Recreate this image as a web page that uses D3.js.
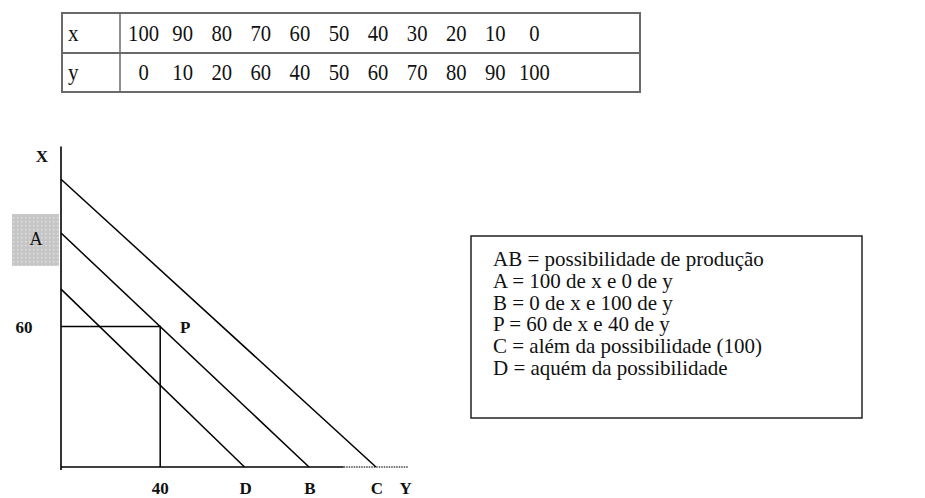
<!DOCTYPE html>
<html>
<head>
<meta charset="utf-8">
<script src="https://cdn.jsdelivr.net/npm/d3@7"></script>
<style>
  html, body { margin: 0; padding: 0; background: #fff; }
  svg { display: block; }
  text { font-family: "Liberation Serif", "DejaVu Serif", serif; fill: #111; }
</style>
</head>
<body>
<svg id="chart" width="925" height="498"></svg>
<script>
// Production schedule (table)
const tableRowNames = ["x", "y"];
const scheduleX = [100, 90, 80, 70, 60, 50, 40, 30, 20, 10, 0];
const scheduleY = [0, 10, 20, 60, 40, 50, 60, 70, 80, 90, 100];

// Frontier intercepts: value of x on the vertical axis, value of y on the horizontal axis
const frontierNames = ["C", "B", "D"];
const frontierX = [123, 100, 76];
const frontierY = [127, 100, 74];

// Point P
const pointP = { name: "P", x: 60, y: 40 };

// Legend lines
const legendLines = [
  "AB = possibilidade de produção",
  "A = 100 de x e 0 de y",
  "B = 0 de x e 100 de y",
  "P = 60 de x e 40 de y",
  "C = além da possibilidade (100)",
  "D = aquém da possibilidade"
];

const svg = d3.select("#chart");

// ---------- table ----------
const tbl = { left: 62, right: 640, top: 13, mid: 53, bottom: 92, divider: 120 };
const col = d3.scaleBand().domain(d3.range(scheduleX.length)).range([124, 554]);
const rowY = d3.scaleBand().domain(tableRowNames).range([tbl.top, tbl.bottom]);

const tg = svg.append("g");
tg.append("rect")
  .attr("x", tbl.left).attr("y", tbl.top)
  .attr("width", tbl.right - tbl.left).attr("height", tbl.bottom - tbl.top)
  .attr("fill", "none").attr("stroke", "#6a6a6a").attr("stroke-width", 2);
tg.append("line")
  .attr("x1", tbl.left).attr("x2", tbl.right)
  .attr("y1", tbl.mid).attr("y2", tbl.mid)
  .attr("stroke", "#6a6a6a").attr("stroke-width", 2);
tg.append("line")
  .attr("x1", tbl.divider).attr("x2", tbl.divider)
  .attr("y1", tbl.top).attr("y2", tbl.bottom)
  .attr("stroke", "#6a6a6a").attr("stroke-width", 1.5);

// table cells use a slightly condensed serif face
const rows = [scheduleX, scheduleY];
tableRowNames.forEach((name, r) => {
  const cy = rowY(name) + rowY.bandwidth() / 2 + 8;
  tg.append("text")
    .attr("transform", `translate(68,${cy}) scale(0.88,1)`)
    .attr("font-size", 24).text(name);
  tg.selectAll(null).data(rows[r]).enter().append("text")
    .attr("transform", (d, i) => `translate(${col(i) + col.bandwidth() / 2},${cy}) scale(0.86,1)`)
    .attr("text-anchor", "middle")
    .attr("font-size", 24)
    .text(d => d);
});

// ---------- diagram ----------
const yScale = d3.scaleLinear().domain([0, 100]).range([61, 309]);   // horizontal axis (good y)
const xScale = d3.scaleLinear().domain([0, 100]).range([467, 233]);  // vertical axis (good x)

const g = svg.append("g");

// shaded box behind the A label
const defs = svg.append("defs");
const pat = defs.append("pattern").attr("id", "dots")
  .attr("width", 4).attr("height", 4).attr("patternUnits", "userSpaceOnUse");
pat.append("rect").attr("width", 4).attr("height", 4).attr("fill", "#c6c6c6");
pat.append("rect").attr("x", 1).attr("y", 1).attr("width", 1.4).attr("height", 1.4).attr("fill", "#e2e2e2");

g.append("rect")
  .attr("x", 12).attr("y", xScale(100) - 19)
  .attr("width", 47).attr("height", 52)
  .attr("fill", "url(#dots)");
g.append("text")
  .attr("x", 36).attr("y", xScale(100) + 12)
  .attr("text-anchor", "middle").attr("font-size", 18)
  .attr("fill", "#333").text("A");

// axes
g.append("line")
  .attr("x1", yScale(0)).attr("x2", yScale(0))
  .attr("y1", xScale(137)).attr("y2", xScale(0) + 3)
  .attr("stroke", "#000").attr("stroke-width", 1.6);
g.append("line")
  .attr("x1", yScale(0)).attr("x2", yScale(114))
  .attr("y1", xScale(0)).attr("y2", xScale(0))
  .attr("stroke", "#000").attr("stroke-width", 1.6);
g.append("line")
  .attr("x1", yScale(114)).attr("x2", yScale(140))
  .attr("y1", xScale(0)).attr("y2", xScale(0))
  .attr("stroke", "#444").attr("stroke-width", 1.4)
  .attr("stroke-dasharray", "1.5,1");

// frontier lines
const frontiers = frontierNames.map((n, i) => ({ name: n, x: frontierX[i], y: frontierY[i] }));
g.selectAll(".frontier").data(frontiers).enter().append("line")
  .attr("class", "frontier")
  .attr("x1", yScale(0)).attr("y1", d => xScale(d.x))
  .attr("x2", d => yScale(d.y)).attr("y2", xScale(0))
  .attr("stroke", "#000").attr("stroke-width", 1.5);

// point P guide lines
g.append("polyline")
  .attr("points", [[yScale(0), xScale(pointP.x)], [yScale(pointP.y), xScale(pointP.x)], [yScale(pointP.y), xScale(0)]].join(" "))
  .attr("fill", "none").attr("stroke", "#000").attr("stroke-width", 1.5);

// labels
const bold = sel => sel.attr("font-weight", "bold").attr("font-size", 17);
g.append("text").attr("x", 42).attr("y", 162).attr("text-anchor", "middle").call(bold).text("X");
g.append("text").attr("x", 24).attr("y", xScale(pointP.x) + 6).attr("text-anchor", "middle").call(bold).text(pointP.x);
g.append("text").attr("x", yScale(pointP.y) + 25).attr("y", xScale(pointP.x) + 6).attr("text-anchor", "middle").call(bold).text(pointP.name);

const baseY = 494;
g.append("text").attr("x", yScale(pointP.y)).attr("y", baseY).attr("text-anchor", "middle").call(bold).text(pointP.y);
g.selectAll(".flabel").data(frontiers).enter().append("text")
  .attr("class", "flabel")
  .attr("x", d => yScale(d.y) + 1).attr("y", baseY)
  .attr("text-anchor", "middle").call(bold).text(d => d.name);
g.append("text").attr("x", yScale(139)).attr("y", baseY).attr("text-anchor", "middle").call(bold).text("Y");

// ---------- legend ----------
const lg = svg.append("g");
lg.append("rect")
  .attr("x", 471).attr("y", 236).attr("width", 391).attr("height", 182)
  .attr("fill", "#fff").attr("stroke", "#222").attr("stroke-width", 1.5);
const lineY = d3.scalePoint().domain(d3.range(legendLines.length)).range([266, 375]);
lg.selectAll("text").data(legendLines).enter().append("text")
  .attr("x", 493).attr("y", (d, i) => lineY(i))
  .attr("font-size", 21)
  .text(d => d);
</script>
</body>
</html>
